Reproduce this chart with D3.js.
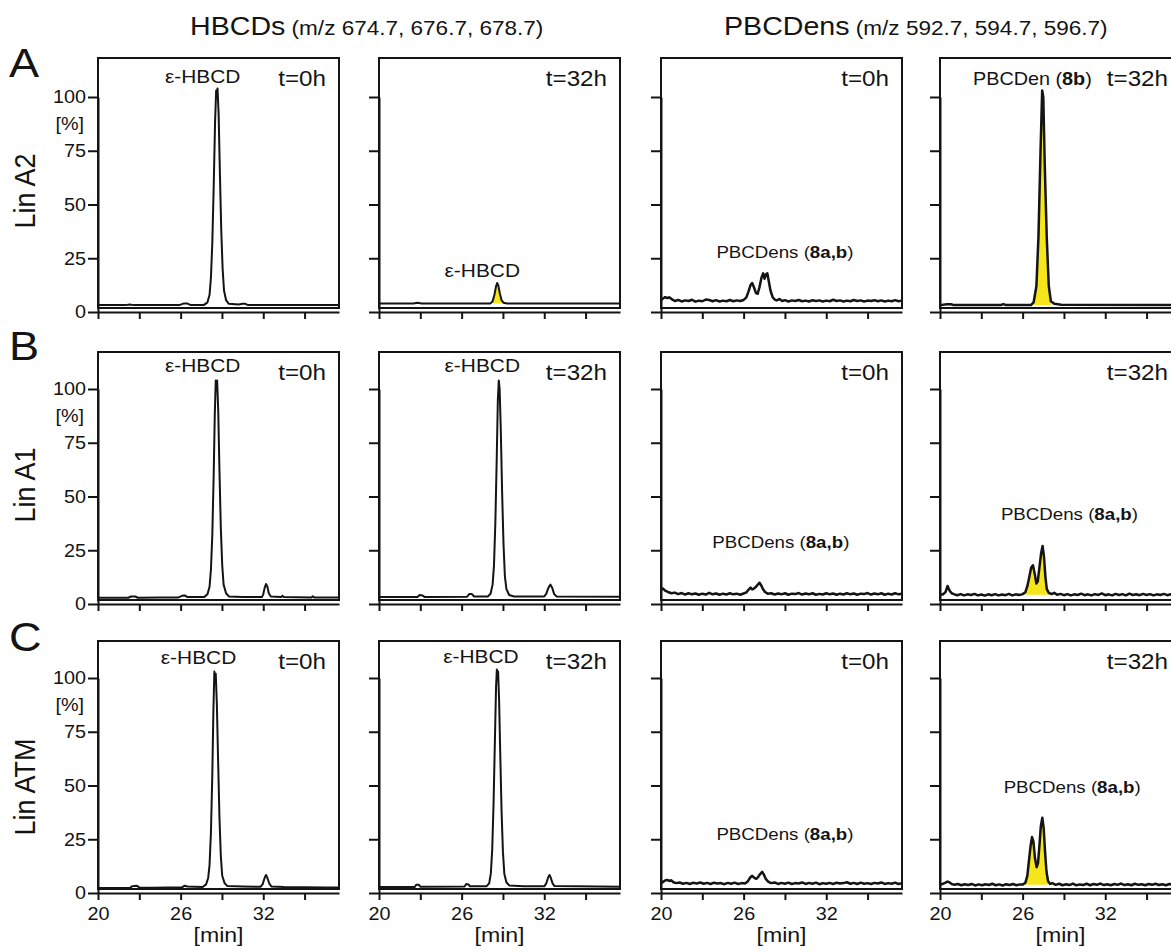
<!DOCTYPE html>
<html>
<head>
<meta charset="utf-8">
<script src="https://cdn.jsdelivr.net/npm/d3@7"></script>
<style>
  body { margin: 0; background: #fff; }
</style>
</head>
<body>
<div id="chart"></div>
<script>
// ---- data ----
var rowLetters = ["A", "B", "C"];
var rowLabels = ["Lin A2", "Lin A1", "Lin ATM"];
var timeLabels = ["t=0h", "t=32h", "t=0h", "t=32h"];
var xTicks = [20, 23, 26, 29, 32, 35];
var xTickLabels = [20, 26, 32];
var yTicks = [0, 25, 50, 75, 100];
var xDomain = [20, 37.5];

// [time (min), intensity (%)]
var A_hbcd_0h = [[20,3.2],[22.0,3.2],[22.3,3.5],[22.6,3.2],[25.9,3.2],[26.2,3.9],[26.5,3.9],[26.7,3.3],[27.7,3.3],[27.95,4.5],[28.1,8],[28.2,16],[28.3,32],[28.4,58],[28.5,88],[28.58,103],[28.63,100],[28.68,104],[28.76,92],[28.85,65],[28.95,38],[29.05,20],[29.15,10],[29.3,5.5],[29.5,3.8],[30.2,3.5],[30.5,3.8],[30.7,3.8],[30.9,3.2],[37.5,3.2]];
var A_hbcd_32h = [[20,4],[22.5,4],[22.8,4.3],[23.1,4],[28.1,4],[28.25,5],[28.38,8],[28.5,12],[28.58,13.5],[28.66,12.5],[28.78,8.5],[28.9,5.5],[29.05,4.3],[29.3,4],[37.5,4]];
var A_pbcd_0h = [[20,5.6],[20.15,6.3],[20.3,6.9],[20.45,6.5],[20.6,6.8],[20.8,5.9],[21,5.1],[21.25,5.6],[21.5,4.9],[21.75,5.4],[22,5.1],[22.25,5.7],[22.5,4.8],[22.75,5.3],[23,5.0],[23.25,5.8],[23.5,5.6],[23.75,5.0],[24,5.5],[24.25,4.9],[24.5,5.3],[24.75,5.0],[25,5.6],[25.25,5.0],[25.5,5.4],[25.75,5.1],[26,5.6],[26.2,6.8],[26.35,9.5],[26.5,12.5],[26.62,13.5],[26.75,11.5],[26.9,8.8],[27.02,8.5],[27.15,11.5],[27.3,16],[27.42,18],[27.52,15.5],[27.62,17.5],[27.72,18],[27.82,14.5],[27.95,10],[28.1,7],[28.25,5.8],[28.4,5.4],[28.6,6.0],[28.8,5.1],[29,5.5],[29.25,4.9],[29.5,5.4],[29.75,5.1],[30,5.6],[30.25,5.0],[30.5,5.3],[30.75,4.9],[31,5.5],[31.25,5.1],[31.5,5.4],[31.75,4.9],[32,5.3],[32.25,5.0],[32.5,5.7],[32.75,5.1],[33,5.4],[33.25,4.9],[33.5,5.3],[33.75,5.0],[34,5.6],[34.25,5.1],[34.5,5.4],[34.75,4.9],[35,5.3],[35.25,5.1],[35.5,5.5],[35.75,5.0],[36,5.4],[36.25,4.9],[36.5,5.3],[36.75,5.0],[37,5.5],[37.25,5.0],[37.5,5.3]];
var A_pbcd_32h = [[20,3.2],[20.5,3.6],[20.8,3.6],[21,3.2],[24.4,3.2],[24.6,3.7],[24.8,3.2],[26.6,3.2],[26.8,4.5],[27.0,12],[27.15,35],[27.3,75],[27.42,103],[27.5,100],[27.6,70],[27.75,35],[27.9,12],[28.05,5],[28.3,3.8],[28.8,3.4],[37.5,3.2]];

var B_hbcd_0h = [[20,2.9],[22.2,2.9],[22.4,3.5],[22.7,3.5],[22.9,2.9],[24.5,3.0],[25.8,3.0],[26.1,3.8],[26.3,4.0],[26.5,3.2],[27.7,3.2],[27.95,4.5],[28.1,8],[28.2,16],[28.3,32],[28.4,60],[28.48,88],[28.55,104],[28.6,101],[28.65,104],[28.73,90],[28.82,62],[28.92,35],[29.02,18],[29.12,9],[29.3,5],[29.5,3.5],[30.5,3.2],[31.9,3.2],[32.0,4.5],[32.1,7.5],[32.2,9.3],[32.3,8],[32.4,5],[32.55,3.5],[33.3,3.2],[33.4,3.8],[33.5,3.2],[35.5,3.0],[35.6,3.6],[35.7,3.0],[37.5,3.0]];
var B_hbcd_32h = [[20,3.3],[22.8,3.3],[22.95,4.2],[23.15,4.0],[23.3,3.3],[26.4,3.4],[26.55,4.6],[26.75,4.6],[26.9,3.5],[27.9,3.5],[28.1,4.8],[28.25,9],[28.35,18],[28.45,38],[28.55,68],[28.63,95],[28.7,104],[28.76,100],[28.84,82],[28.94,52],[29.04,28],[29.14,13],[29.25,7],[29.45,4.2],[29.8,3.5],[32.0,3.5],[32.15,4.8],[32.3,7.5],[32.45,9],[32.58,7.5],[32.72,4.6],[32.9,3.5],[37.5,3.4]];
var B_pbcd_0h = [[20,6.8],[20.15,7.2],[20.3,6.2],[20.5,5.6],[20.75,5.0],[21,5.3],[21.25,4.6],[21.5,5.1],[21.75,4.4],[22,5.0],[22.25,4.5],[22.5,4.9],[22.75,4.3],[23,4.8],[23.25,4.4],[23.5,5.2],[23.75,4.5],[24,4.9],[24.25,4.3],[24.5,4.8],[24.75,4.4],[25,5.0],[25.25,4.5],[25.5,4.8],[25.75,4.3],[26,4.9],[26.2,5.4],[26.35,6.6],[26.5,7.6],[26.62,6.8],[26.75,7.2],[26.9,8.0],[27.05,9.2],[27.15,9.9],[27.28,8.6],[27.4,7.0],[27.55,5.6],[27.75,4.8],[28,5.0],[28.25,4.4],[28.5,4.9],[28.75,4.5],[29,5.0],[29.25,4.3],[29.5,4.8],[29.75,4.6],[30,5.1],[30.25,4.4],[30.5,4.9],[30.75,4.5],[31,5.0],[31.25,4.3],[31.5,4.7],[31.75,4.4],[32,5.0],[32.25,4.5],[32.5,4.9],[32.75,4.3],[33,4.8],[33.25,4.4],[33.5,5.0],[33.75,4.5],[34,4.9],[34.25,4.3],[34.5,4.8],[34.75,4.6],[35,5.1],[35.25,4.4],[35.5,4.9],[35.75,4.5],[36,5.0],[36.25,4.3],[36.5,4.8],[36.75,4.4],[37,5.0],[37.25,4.5],[37.5,4.8]];
var B_pbcd_32h = [[20,4.5],[20.2,4.4],[20.4,5.5],[20.55,8.4],[20.7,6.2],[20.85,5.0],[21,4.6],[21.25,4.1],[21.5,4.6],[21.75,4.0],[22,4.5],[22.25,4.2],[22.5,4.7],[22.75,4.0],[23,4.4],[23.25,3.9],[23.5,4.5],[23.75,4.1],[24,4.6],[24.25,4.0],[24.5,4.4],[24.75,4.1],[25,4.7],[25.25,4.0],[25.5,4.5],[25.75,4.2],[26,4.6],[26.2,5.5],[26.35,8.5],[26.5,13],[26.62,17],[26.75,18],[26.88,14],[27.0,9.5],[27.1,10.5],[27.22,17],[27.35,24],[27.45,27],[27.55,22],[27.65,13],[27.75,7],[27.9,5.2],[28.1,4.6],[28.3,5.2],[28.5,4.3],[28.75,4.7],[29,4.1],[29.25,4.6],[29.5,4.0],[29.75,4.5],[30,4.2],[30.25,4.8],[30.5,4.1],[30.75,4.5],[31,4.0],[31.25,4.6],[31.5,4.2],[31.75,4.9],[32,4.1],[32.25,4.5],[32.5,4.0],[32.75,4.7],[33,4.2],[33.25,4.6],[33.5,4.0],[33.75,4.8],[34,4.2],[34.25,4.5],[34.5,4.1],[34.75,4.7],[35,4.2],[35.25,4.6],[35.5,4.0],[35.75,4.5],[36,4.2],[36.25,4.7],[36.5,4.1],[36.75,4.5],[37,4.2],[37.25,4.6],[37.5,4.2]];

var C_hbcd_0h = [[20,2.3],[22.3,2.3],[22.5,3.2],[22.8,3.4],[23.0,2.6],[24.0,2.5],[25.0,2.6],[26.1,2.6],[26.3,3.4],[26.5,3.0],[27.6,2.8],[27.85,4],[28.0,7],[28.1,13],[28.2,28],[28.3,55],[28.38,85],[28.45,103],[28.5,100],[28.55,102],[28.63,88],[28.72,62],[28.82,35],[28.92,17],[29.02,8],[29.2,4.5],[29.4,3.2],[30.5,3.0],[31.8,2.9],[31.95,4],[32.1,7],[32.2,8.4],[32.3,7],[32.45,4.2],[32.6,3],[33.5,2.8],[36.5,2.6],[37.5,2.6]];
var C_hbcd_32h = [[20,2.8],[22.6,2.8],[22.7,3.8],[22.9,3.8],[23.0,2.9],[26.2,3.0],[26.35,4.2],[26.5,4.0],[26.6,3.1],[27.8,3.1],[28.0,4.5],[28.12,9],[28.22,20],[28.32,42],[28.42,72],[28.5,96],[28.56,104],[28.6,99],[28.65,103],[28.72,90],[28.8,66],[28.9,38],[29.0,19],[29.1,9],[29.25,5],[29.45,3.5],[30.5,3.1],[32.0,3.1],[32.15,4.5],[32.28,7.2],[32.38,8.4],[32.48,7],[32.6,4.5],[32.75,3.2],[37.5,2.9]];
var C_pbcd_0h = [[20,4.6],[20.15,5.2],[20.3,5.8],[20.45,6.1],[20.6,5.6],[20.75,5.9],[20.9,5.0],[21.1,4.6],[21.35,4.9],[21.6,4.3],[21.85,4.7],[22.1,4.2],[22.35,4.8],[22.6,4.4],[22.85,4.9],[23.1,4.3],[23.35,4.7],[23.6,4.2],[23.85,4.8],[24.1,4.4],[24.35,4.6],[24.6,4.1],[24.85,4.7],[25.1,4.3],[25.35,4.8],[25.6,4.2],[25.85,4.6],[26.1,4.4],[26.3,5.4],[26.48,7.2],[26.62,8.0],[26.78,7.0],[26.92,6.6],[27.05,7.4],[27.2,8.8],[27.35,9.8],[27.48,8.4],[27.62,6.4],[27.8,5.2],[28.0,4.6],[28.25,4.9],[28.5,4.2],[28.75,4.7],[29,4.3],[29.25,4.8],[29.5,4.2],[29.75,4.6],[30,4.4],[30.25,4.9],[30.5,4.2],[30.75,4.7],[31,4.3],[31.25,4.8],[31.5,4.1],[31.75,4.6],[32,4.3],[32.25,4.7],[32.5,4.2],[32.75,4.8],[33,4.4],[33.25,4.6],[33.5,5.0],[33.75,4.3],[34,4.7],[34.25,4.2],[34.5,4.8],[34.75,4.3],[35,4.6],[35.25,4.2],[35.5,4.7],[35.75,4.4],[36,4.9],[36.25,4.2],[36.5,4.6],[36.75,4.3],[37,4.8],[37.25,4.2],[37.5,4.6]];
var C_pbcd_32h = [[20,4.0],[20.2,4.2],[20.4,4.8],[20.55,5.3],[20.7,4.9],[20.85,4.2],[21.05,3.8],[21.3,4.2],[21.55,3.6],[21.8,4.1],[22.05,3.7],[22.3,4.2],[22.55,3.5],[22.8,4.0],[23.05,3.6],[23.3,4.1],[23.55,3.7],[23.8,4.3],[24.05,3.6],[24.3,4.0],[24.55,3.5],[24.8,4.1],[25.05,3.7],[25.3,4.2],[25.55,3.6],[25.8,4.0],[26.0,3.9],[26.2,4.8],[26.34,8],[26.46,15],[26.58,22],[26.68,26],[26.78,24],[26.9,16],[27.02,12],[27.12,14],[27.22,22],[27.32,31],[27.43,35],[27.53,30],[27.63,19],[27.73,10],[27.85,5.5],[28.0,4.2],[28.15,4.6],[28.4,3.8],[28.65,4.3],[28.9,3.6],[29.15,4.1],[29.4,3.7],[29.65,4.4],[29.9,3.6],[30.15,4.0],[30.4,3.7],[30.65,4.3],[30.9,3.6],[31.15,4.2],[31.4,3.8],[31.65,4.4],[31.9,3.7],[32.15,4.1],[32.4,3.6],[32.65,4.2],[32.9,3.8],[33.15,4.4],[33.4,3.7],[33.65,4.1],[33.9,3.6],[34.15,4.3],[34.4,3.8],[34.65,4.1],[34.9,3.6],[35.15,4.2],[35.4,3.8],[35.65,4.3],[35.9,3.7],[36.15,4.1],[36.4,3.6],[36.65,4.2],[36.9,3.8],[37.15,4.3],[37.5,3.8]];

// yellow-shaded peak ranges: [row, col, from, to, baseline]
var shaded = [[0,1,28.15,29.05,4],[0,3,26.65,28.15,3.2],[1,3,26.2,27.9,4.3],[2,3,26.2,27.9,3.8]];

// peak labels: [row, col, plain text, bold part, closing, time, intensity, anchor]
var peakLabels = [
  [0,0,"\u03b5-HBCD","","",27.6,106.5,"middle"],
  [0,1,"\u03b5-HBCD","","",27.5,16.3,"middle"],
  [0,2,"PBCDens (","8a,b",")",29.0,25,"middle"],
  [0,3,"PBCDen (","8b",")",22.4,105.6,"start"],
  [1,0,"\u03b5-HBCD","","",27.6,108,"middle"],
  [1,1,"\u03b5-HBCD","","",27.5,108,"middle"],
  [1,2,"PBCDens (","8a,b",")",28.7,26,"middle"],
  [1,3,"PBCDens (","8a,b",")",29.4,39,"middle"],
  [2,0,"\u03b5-HBCD","","",27.3,106.5,"middle"],
  [2,1,"\u03b5-HBCD","","",27.4,107,"middle"],
  [2,2,"PBCDens (","8a,b",")",29.0,24.7,"middle"],
  [2,3,"PBCDens (","8a,b",")",29.6,46.5,"middle"]
];

var traces = [
  [A_hbcd_0h, A_hbcd_32h, A_pbcd_0h, A_pbcd_32h],
  [B_hbcd_0h, B_hbcd_32h, B_pbcd_0h, B_pbcd_32h],
  [C_hbcd_0h, C_hbcd_32h, C_pbcd_0h, C_pbcd_32h]
];

// ---- layout ----
var W = 1171, H = 952;
var colLeft = [98, 379, 661, 940], panelW = 241;
var rowTop = [58, 352, 641], rowZero = [312, 604, 893];
var rowLabelY = [191, 485, 787];
var letterY = [77, 360, 651];
var ink = "#141414", yellow = "#f6e51b";
var SX = 1.1; // the figure's text is slightly wider than tall

var svg = d3.select("#chart").append("svg")
    .attr("width", W)
    .attr("height", H)
    .style("font-family", "'Liberation Sans', Arial, Helvetica, sans-serif");

svg.append("rect").attr("width", W).attr("height", H).attr("fill", "#fff");

function label(parent, x, y, size, anchor){
    return parent.append("text")
        .attr("transform", "translate(" + x + "," + y + ") scale(" + SX + ",1)")
        .attr("font-size", size)
        .attr("text-anchor", anchor || "start")
        .attr("fill", ink);
}

//column headers
var h1 = label(svg, 190, 35, 26);
h1.append("tspan").text("HBCDs");
h1.append("tspan").attr("font-size", 20.5).text(" (m/z 674.7, 676.7, 678.7)");
var h2 = label(svg, 724, 35, 26);
h2.append("tspan").text("PBCDens");
h2.append("tspan").attr("font-size", 20.5).text(" (m/z 592.7, 594.7, 596.7)");

rowLetters.forEach(function(l, r){
    label(svg, 9, letterY[r], 41).text(l);
    svg.append("text")
        .attr("transform", "translate(35," + rowLabelY[r] + ") rotate(-90) scale(1," + SX + ")")
        .attr("text-anchor", "middle")
        .attr("font-size", 27)
        .attr("fill", ink)
        .text(rowLabels[r]);
});

var line = d3.line();

for (var r = 0; r < 3; r++){
    for (var c = 0; c < 4; c++){
        var L = colLeft[c], y0 = rowZero[r], boxTop = rowTop[r];
        var x = d3.scaleLinear().domain(xDomain).range([L, L + panelW]);
        var y = d3.scaleLinear().domain([0, 100]).range([y0, y0 - 215]);
        var g = svg.append("g");

        //yellow area of the converted / formed peak
        shaded.filter(function(s){ return s[0] === r && s[1] === c; }).forEach(function(s){
            var pts = traces[r][c].filter(function(d){ return d[0] >= s[2] && d[0] <= s[3]; });
            g.append("path")
                .datum(pts)
                .attr("d", d3.area()
                    .x(function(d){ return x(d[0]); })
                    .y0(y(s[4]))
                    .y1(function(d){ return y(d[1]); }))
                .attr("fill", yellow);
        });

        g.append("path")
            .datum(traces[r][c])
            .attr("d", line.x(function(d){ return x(d[0]); }).y(function(d){ return y(d[1]); }))
            .attr("fill", "none")
            .attr("stroke", ink)
            .attr("stroke-width", c < 2 ? 2 : 2.5)
            .attr("stroke-linejoin", "round");

        //frame
        g.append("rect")
            .attr("x", L).attr("y", boxTop)
            .attr("width", panelW).attr("height", y0 - 4 - boxTop)
            .attr("fill", "none").attr("stroke", ink).attr("stroke-width", 2);

        var ya = g.append("g")
            .attr("transform", "translate(" + L + ",0)")
            .call(d3.axisLeft(y).tickValues(yTicks).tickSize(10).tickSizeOuter(0)
                .tickFormat(c === 0 ? d3.format("d") : ""));
        var xa = g.append("g")
            .attr("transform", "translate(0," + y0 + ")")
            .call(d3.axisBottom(x).tickValues(xTicks).tickSize(7).tickSizeOuter(0)
                .tickFormat(function(d){ return (r === 2 && xTickLabels.indexOf(d) >= 0) ? d : ""; }));

        [ya, xa].forEach(function(a){
            a.selectAll("path, line").attr("stroke", ink).attr("stroke-width", 2);
            a.selectAll("text").attr("fill", ink).attr("font-size", 18)
                .attr("font-family", "'Liberation Sans', Arial, Helvetica, sans-serif");
        });
        //drop the empty tick texts
        ya.selectAll("text").filter(function(){ return this.textContent === ""; }).remove();
        xa.selectAll("text").filter(function(){ return this.textContent === ""; }).remove();
        ya.selectAll("text").attr("x", -12 / SX).attr("transform", "scale(" + SX + ",1)");
        xa.selectAll("text").attr("y", 0).attr("dy", null).attr("transform", "translate(0,27) scale(" + SX + ",1)");

        if (c === 0){
            label(svg, 84, y0 - 182, 18, "end").text("[%]");
        }
        if (r === 2){
            label(svg, L + panelW / 2, 942, 21, "middle").text("[min]");
        }

        //time point of the incubation
        label(g, L + panelW - 13, boxTop + 28, 22, "end").text(timeLabels[c]);

        peakLabels.filter(function(p){ return p[0] === r && p[1] === c; }).forEach(function(p){
            var t = label(g, x(p[5]), y(p[6]), c < 2 ? 19 : (r === 0 && c === 3 ? 18 : 17), p[7]);
            t.append("tspan").text(p[2]);
            if (p[3]){
                t.append("tspan").attr("font-weight", "bold").text(p[3]);
                t.append("tspan").text(p[4]);
            }
        });
    }
}
</script>
</body>
</html>
